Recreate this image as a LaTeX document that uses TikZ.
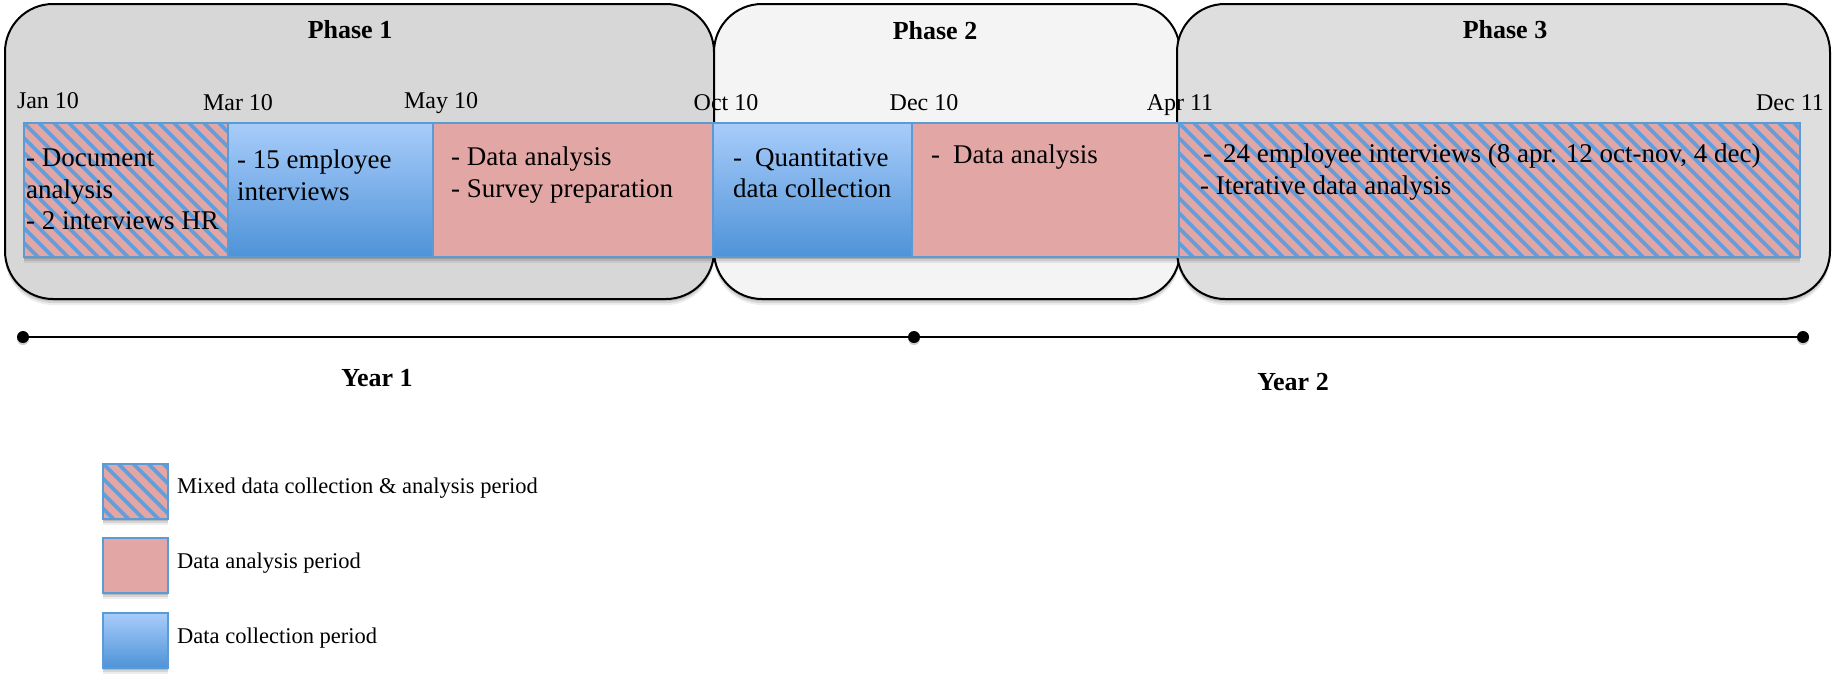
\documentclass[tikz,border=0pt]{standalone}
\usepackage{fontspec}
\setmainfont{Liberation Serif}
\usetikzlibrary{shadows}
\definecolor{pinkc}{HTML}{E2A7A5}
\definecolor{stripec}{HTML}{629EDC}
\definecolor{bordc}{HTML}{5B9BD5}
\definecolor{bluetop}{HTML}{A8CCFA}
\definecolor{bluebot}{HTML}{4E93D8}
\definecolor{phA}{HTML}{D7D7D7}
\definecolor{phB}{HTML}{F4F4F4}
\definecolor{phC}{HTML}{DEDEDE}
\tikzset{
  softshadow/.style={
    drop shadow={shadow xshift=0pt,shadow yshift=-2pt,opacity=.14,fill=black},
    drop shadow={shadow xshift=0pt,shadow yshift=-4pt,opacity=.10,fill=black},
    drop shadow={shadow xshift=0pt,shadow yshift=-6pt,opacity=.07,fill=black}},
  phasebox/.style={draw=black, line width=2pt, rounded corners=48pt, inner sep=0pt,
    minimum height=295pt, softshadow},
  barbase/.style={draw=bordc, line width=2pt, inner sep=0pt, softshadow},
  collect/.style={barbase, top color=bluetop, bottom color=bluebot},
  analysis/.style={barbase, fill=pinkc},
  mixed/.style={barbase, fill=pinkc, path picture={
    \foreach \i in {-12,...,45}{
      \draw[stripec, line width=3.6pt]
        ([xshift=\i*15pt]path picture bounding box.north west) -- ++(220pt,-220pt);}}},
  bartext/.style={anchor=north west, inner sep=0pt, align=left,
    font=\rmfamily\fontsize{27}{31.5}\selectfont},
  datelbl/.style={anchor=base, inner sep=0pt, font=\rmfamily\fontsize{24}{28}\selectfont},
  titlelbl/.style={anchor=base, inner sep=0pt, font=\rmfamily\fontsize{26}{30}\selectfont\bfseries},
  legendlbl/.style={anchor=base west, inner sep=0pt, font=\rmfamily\fontsize{22.5}{26}\selectfont},
  tdot/.style={circle, fill=black, inner sep=0pt, minimum size=12pt,
    drop shadow={shadow xshift=0pt,shadow yshift=-2pt,opacity=.2,fill=black}},
  tline/.style={line width=2.5pt, black}
}
\begin{document}
\begin{tikzpicture}[x=1pt,y=-1pt]
\useasboundingbox (0,0) rectangle (1832,673);

% phases
\node[phasebox, fill=phA, minimum width=709pt] (p1) at (359.5,151.5) {};
\node[phasebox, fill=phB, minimum width=466pt] (p2) at (947,151.5) {};
\node[phasebox, fill=phC, minimum width=653pt] (p3) at (1503.5,151.5) {};

\node[titlelbl] (t1) at (350,38) {Phase 1};
\node[titlelbl] (t2) at (935,39) {Phase 2};
\node[titlelbl] (t3) at (1505,38) {Phase 3};

% dates
\node[datelbl] (jan10) at (48,108) {Jan 10};
\node[datelbl] (mar10) at (238,110) {Mar 10};
\node[datelbl] (may10) at (441,108) {May 10};
\node[datelbl] (oct10) at (726,110) {Oct 10};
\node[datelbl] (dec10) at (924,110) {Dec 10};
\node[datelbl] (apr11) at (1180,110) {Apr 11};
\node[datelbl] (dec11) at (1790,110) {Dec 11};

% bars
\node[mixed, minimum width=204pt, minimum height=134pt] (b1) at (126,190) {};
\node[collect, minimum width=205pt, minimum height=134pt] (b2) at (330.5,190) {};
\node[analysis, minimum width=280pt, minimum height=134pt] (b3) at (573,190) {};
\node[collect, minimum width=199pt, minimum height=134pt] (b4) at (812.5,190) {};
\node[analysis, minimum width=267pt, minimum height=134pt] (b5) at (1045.5,190) {};
\node[mixed, minimum width=621pt, minimum height=134pt] (b6) at (1489.5,190) {};

\node[bartext] (x1) at (26,149) {- Document\\analysis\\- 2 interviews HR};
\node[bartext] (x2) at (237,150) {- 15 employee\\interviews};
\node[bartext] (x3) at (451,147) {- Data analysis\\- Survey preparation};
\node[bartext] (x4) at (733,148) {-\hspace{13pt}Quantitative\\data collection};
\node[bartext] (x5) at (931,145) {-\hspace{13pt}Data analysis};
\node[bartext] (x6) at (1203,144) {-\hspace{11pt}24 employee interviews (8 apr. 12 oct-nov, 4 dec)\\\hspace*{-3pt}- Iterative data analysis};

% timeline
\node[tdot] (d1) at (23,337) {};
\node[tdot] (d2) at (914,337) {};
\node[tdot] (d3) at (1803,337) {};
\draw[tline] (d1) -- (d2);
\draw[tline] (d2) -- (d3);
\node[titlelbl] (y1) at (377,386) {Year 1};
\node[titlelbl] (y2) at (1293,390) {Year 2};

% legend
\node[mixed, minimum width=65pt, minimum height=55pt] (l1) at (135.5,491) {};
\node[analysis, minimum width=65pt, minimum height=55pt] (l2) at (135.5,565.5) {};
\node[collect, minimum width=65pt, minimum height=55pt] (l3) at (135.5,640.5) {};
\node[legendlbl] (lt1) at (177,493) {Mixed data collection \& analysis period};
\node[legendlbl] (lt2) at (177,568) {Data analysis period};
\node[legendlbl] (lt3) at (177,643) {Data collection period};
\end{tikzpicture}
\end{document}
